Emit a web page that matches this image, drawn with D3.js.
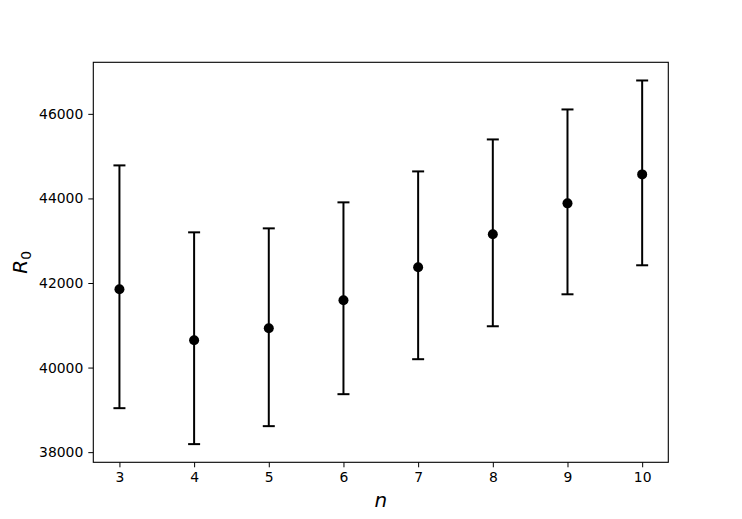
<!DOCTYPE html>
<html><head><meta charset="utf-8">
<script src="https://cdn.jsdelivr.net/npm/d3@7"></script>
<style>body{margin:0;background:#fff}svg{display:block}text{font-family:"DejaVu Sans",sans-serif}</style>
</head><body><svg id="c" width="742" height="519"></svg>
<script>
const nValues = [3, 4, 5, 6, 7, 8, 9, 10];
const r0Mean  = [41852, 40647, 40930, 41591, 42371, 43151, 43883, 44568];
const r0Upper = [44781, 43198, 43292, 43907, 44639, 45395, 46104, 46789];
const r0Lower = [39040, 38190, 38615, 39371, 40198, 40977, 41733, 42419];
const xTicks = [3, 4, 5, 6, 7, 8, 9, 10];
const yTicks = [38000, 40000, 42000, 44000, 46000];

const svg = d3.select("#c");
const L = 93.3, R = 668.3, T = 62.3, B = 462.3;
const x = d3.scaleLinear().domain([2.65, 10.35]).range([L, R]);
const lo = d3.min(r0Lower), hi = d3.max(r0Upper), pad = (hi - lo) * 0.05;
const y = d3.scaleLinear().domain([lo - pad, hi + pad]).range([B, T]);

const data = nValues.map((n, i) => ({n, m: r0Mean[i], u: r0Upper[i], l: r0Lower[i]}));

const g = svg.append("g");
g.selectAll("line.err").data(data).join("line")
  .attr("x1", d => x(d.n)).attr("x2", d => x(d.n))
  .attr("y1", d => y(d.u)).attr("y2", d => y(d.l))
  .attr("stroke", "#000").attr("stroke-width", 2);
["u", "l"].forEach(k => {
  g.selectAll("line.cap" + k).data(data).join("line")
    .attr("x1", d => x(d.n) - 6).attr("x2", d => x(d.n) + 6)
    .attr("y1", d => y(d[k])).attr("y2", d => y(d[k]))
    .attr("stroke", "#000").attr("stroke-width", 2);
});
g.selectAll("circle").data(data).join("circle")
  .attr("cx", d => x(d.n)).attr("cy", d => y(d.m)).attr("r", 5).attr("fill", "#000");

const xa = svg.append("g").attr("transform", `translate(0,${B})`)
  .call(d3.axisBottom(x).tickValues(xTicks).tickSize(5).tickPadding(5).tickFormat(d3.format("d")));
const ya = svg.append("g").attr("transform", `translate(${L},0)`)
  .call(d3.axisLeft(y).tickValues(yTicks).tickSize(5).tickPadding(5).tickFormat(d3.format("d")));
[xa, ya].forEach(a => {
  a.select(".domain").remove();
  a.selectAll(".tick line").attr("stroke", "#000").attr("stroke-width", 1);
  a.selectAll(".tick text").attr("font-size", 13.9).attr("fill", "#000").attr("font-family", "DejaVu Sans");
});
svg.append("rect").attr("x", L).attr("y", T).attr("width", R - L).attr("height", B - T)
  .attr("fill", "none").attr("stroke", "#000").attr("stroke-width", 1.1);

svg.append("text").attr("x", (L + R) / 2).attr("y", 507).attr("text-anchor", "middle")
  .attr("font-size", 20).attr("font-style", "italic").text("n");
const yl = svg.append("text").attr("transform", `translate(27,${(T + B) / 2}) rotate(-90)`)
  .attr("text-anchor", "middle").attr("font-size", 20).attr("font-style", "italic");
yl.append("tspan").text("R");
yl.append("tspan").attr("font-size", 14).attr("font-style", "normal").attr("dy", 4).text("0");
</script></body></html>
